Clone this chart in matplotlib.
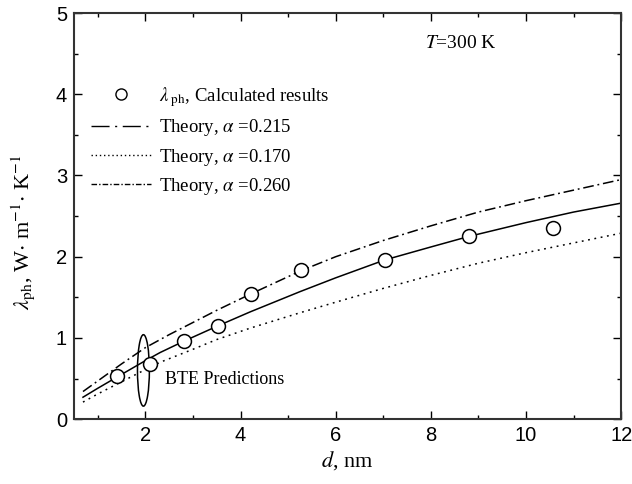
import numpy as np
import matplotlib
matplotlib.use('Agg')
import matplotlib.pyplot as plt
from matplotlib.lines import Line2D
from matplotlib.patches import Ellipse

plt.rcParams['mathtext.fontset'] = 'stix'
plt.rcParams['font.family'] = 'Liberation Sans'

# Calculated results (BTE)
d_calc = [1.41, 2.10, 2.81, 3.53, 4.21, 5.28, 7.03, 8.80, 10.56]
lam_calc = [0.53, 0.68, 0.96, 1.15, 1.54, 1.84, 1.96, 2.25, 2.35]

# Theory, alpha = 0.215 (solid)
d_215 = [0.69, 1.0, 1.41, 2.0, 2.31, 2.81, 3.53, 4.2, 5.25, 6.0, 7.03, 8.0, 8.8, 10.0, 11.0, 12.0]
lam_215 = [0.27, 0.38, 0.52, 0.72, 0.82, 0.96, 1.15, 1.32, 1.57, 1.74, 1.96, 2.12, 2.25, 2.42, 2.55, 2.66]

# Theory, alpha = 0.170 (dotted)
d_170 = [0.69, 1.0, 1.5, 2.0, 2.31, 3.0, 3.5, 4.2, 5.25, 6.0, 7.0, 8.0, 9.0, 10.0, 11.0, 12.0]
lam_170 = [0.21, 0.31, 0.46, 0.61, 0.70, 0.86, 0.98, 1.12, 1.31, 1.44, 1.61, 1.77, 1.92, 2.05, 2.17, 2.29]

# Theory, alpha = 0.260 (dash-dot)
d_260 = [0.69, 1.0, 1.5, 2.0, 2.5, 3.0, 3.5, 4.21, 5.28, 6.0, 7.0, 8.0, 9.0, 10.0, 11.0, 12.0]
lam_260 = [0.34, 0.47, 0.68, 0.88, 1.04, 1.19, 1.34, 1.54, 1.83, 2.00, 2.20, 2.38, 2.55, 2.69, 2.82, 2.95]

fig = plt.figure(figsize=(6.32, 4.84), dpi=100)
ax = fig.add_axes([0.117, 0.134, 0.866, 0.839])

ax.plot(d_215, lam_215, color='black', lw=1.1)
ax.plot(d_170, lam_170, color='black', lw=1.1, ls=(0, (1.2, 3)))
ax.plot(d_260, lam_260, color='black', lw=1.1, ls=(0, (7, 2.5, 1.2, 2.5)))
ax.plot(d_calc, lam_calc, 'o', ms=10, mfc='white', mec='black', mew=1.1, ls='none')

# BTE Predictions ellipse
ax.add_patch(Ellipse((1.96, 0.60), 0.25, 0.88, fill=False, ec='black', lw=1.1))
ax.text(2.41, 0.49, 'BTE Predictions', family='Liberation Serif', fontsize=13, va='center')
ax.text(7.87, 4.62, '$T$=300 K', family='Liberation Serif', fontsize=14, va='center')

ax.set_xlim(0.5, 12)
ax.set_ylim(0, 5)
ax.set_xticks([2, 4, 6, 8, 10, 12])
ax.set_xticks(np.arange(1, 12.1, 1), minor=True)
ax.set_yticks([0, 1, 2, 3, 4, 5])
ax.set_yticks(np.arange(0, 5.01, 0.5), minor=True)
ax.tick_params(which='both', direction='in', top=True, right=True, labelsize=14.5)
ax.tick_params(which='major', length=6, width=1, pad=5)
ax.tick_params(which='minor', length=3, width=1)
for s in ax.spines.values():
    s.set_linewidth(1.5)
    s.set_color('#333333')

ax.set_xlabel('$d$, nm', family='Liberation Serif', fontsize=16, labelpad=3)
ax.set_ylabel(r'$\lambda_{\mathrm{ph}}$, W$\cdot$ m$^{-1}$$\cdot$ K$^{-1}$',
              family='Liberation Serif', fontsize=16)
ax.yaxis.set_label_coords(-0.068, 0.46)

handles = [
    Line2D([], [], marker='o', ms=8, mfc='white', mec='black', ls='none'),
    Line2D([], [], color='black', lw=1, ls=(0, (13, 4, 1.5, 4))),
    Line2D([], [], color='black', lw=1, ls=(0, (1, 2))),
    Line2D([], [], color='black', lw=1, ls=(0, (4, 1.5, 1, 1.5))),
]
labels = [r'$\lambda_{\ \mathrm{ph}}$, Calculated results',
          r'Theory, $\alpha$ =0.215',
          r'Theory, $\alpha$ =0.170',
          r'Theory, $\alpha$ =0.260']
ax.legend(handles, labels, loc='upper left', bbox_to_anchor=(0.0, 0.865),
          frameon=False, prop={'family': 'Liberation Serif', 'size': 13.5},
          handlelength=3.2, handletextpad=0.45, labelspacing=0.45, borderaxespad=0.5)

fig.savefig('out.png', dpi=100)
